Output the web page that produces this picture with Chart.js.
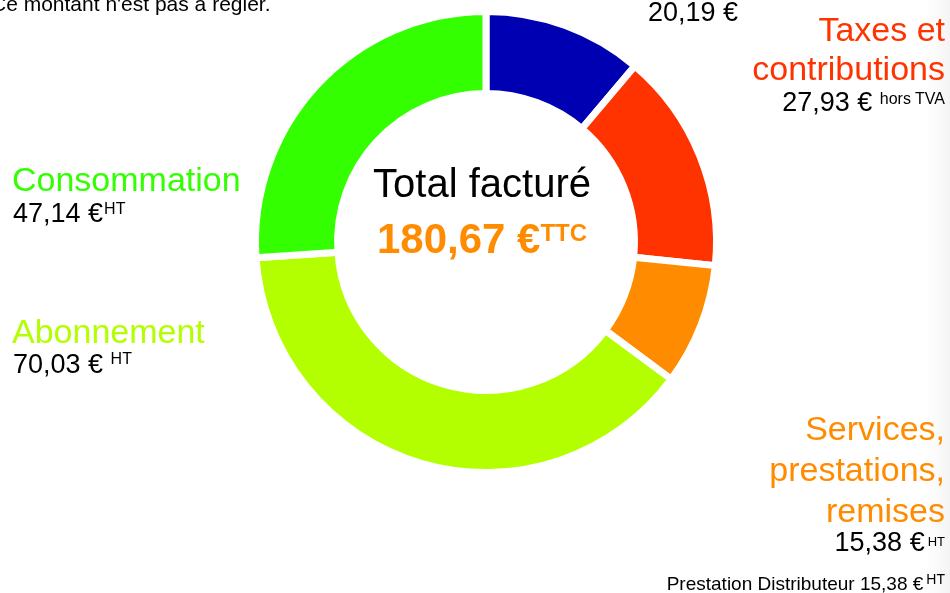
<!DOCTYPE html>
<html>
<head>
<meta charset="utf-8">
<script src="https://cdn.jsdelivr.net/npm/chart.js@4/dist/chart.umd.min.js"></script>
<style>
  html, body { margin: 0; padding: 0; background: #fff; }
  #wrap { position: relative; width: 950px; height: 593px; overflow: hidden; font-family: "Liberation Sans", Arial, sans-serif; }
  #graph { position: absolute; left: 0; top: 0; }
  .shade { position: absolute; left: 926px; top: 0; width: 24px; height: 593px;
           background: linear-gradient(to right, rgba(0,0,0,0), rgba(0,0,0,0.045)); }
  .t { position: absolute; line-height: 1; white-space: nowrap; }
  .t sup { position: relative; vertical-align: baseline; }
</style>
</head>
<body>
<div id="wrap">
  <canvas id="graph" width="950" height="593"></canvas>
  <div class="shade"></div>
  <div id="labels"></div>
</div>
<script>
const categories = ['Abonnement HT', 'Taxes et contributions', 'Services, prestations, remises', 'Abonnement', 'Consommation'];
const amounts = [20.19, 27.93, 15.38, 70.03, 47.14];
const colors = ['#0000b3', '#ff3300', '#ff8c00', '#b3ff00', '#33ff00'];
const distributeur = 15.38;

const eur = v => v.toFixed(2).replace('.', ',') + ' €';
const total = amounts.reduce((a, b) => a + b, 0);

// ascent of Liberation Sans with line-height 1 -> baseline offset
const BASE = 0.8465;
const box = document.querySelector('#labels');
function label(html, fs, baseline, opts) {
    const d = document.createElement('div');
    d.className = 't';
    d.innerHTML = html;
    d.style.fontSize = fs + 'px';
    d.style.top = (baseline - BASE * fs) + 'px';
    d.style.color = opts.color || '#000';
    if (opts.bold) d.style.fontWeight = 'bold';
    if (opts.right !== undefined) d.style.right = (950 - opts.right) + 'px';
    if (opts.left !== undefined) d.style.left = opts.left + 'px';
    if (opts.center !== undefined) {
        d.style.left = opts.center + 'px';
        d.style.transform = 'translateX(-50%)';
    }
    box.appendChild(d);
}
const sup = (txt, fs, up, gap) => `<sup style="font-size:${fs}px;top:-${up}px;margin-left:${gap || 0}px">${txt}</sup>`;

label("Ce montant n'est pas à régler.", 21, 11, {left: -9});

label(eur(amounts[0]), 27, 22, {right: 738});

label('Taxes et', 34, 41, {right: 945, color: colors[1]});
label('contributions', 34, 80, {right: 945, color: colors[1]});
label(eur(amounts[1]) + ' ' + sup('hors TVA', 16, 7), 27, 112, {right: 945});

label('Consommation', 34, 191, {left: 12, color: colors[4]});
label(eur(amounts[4]) + sup('HT', 16, 8, 1), 27, 223, {left: 13});

label('Abonnement', 34, 343, {left: 12, color: colors[3]});
label(eur(amounts[3]) + ' ' + sup('HT', 16, 9), 27, 374, {left: 13});

label('Services,', 34, 440, {right: 945, color: colors[2]});
label('prestations,', 34, 481, {right: 945, color: colors[2]});
label('remises', 34, 522, {right: 945, color: colors[2]});
label(eur(amounts[2]) + sup('HT', 13, 5, 3), 27, 552, {right: 945});
label('Prestation Distributeur ' + eur(distributeur) + sup('HT', 14, 6, 3), 19, 590, {right: 945});

label('Total facturé', 40, 197, {center: 482});
label(eur(total) + sup('TTC', 24, 12), 42, 254, {center: 482, bold: true, color: colors[2]});

const data = {
    labels: categories,
    datasets: [{
        data: amounts,
        backgroundColor: colors,
        borderColor: '#ffffff',
        borderWidth: 7,
        hoverOffset: 0
    }]
};
const config = {
    type: 'doughnut',
    data: data,
    options: {
        responsive: false,
        animation: false,
        cutout: '64.4%',
        layout: {
            padding: {left: 252, right: 230, top: 8, bottom: 117}
        },
        plugins: {
            legend: {display: false},
            tooltip: {enabled: false}
        },
        events: []
    }
};

const graph = document.querySelector('#graph');
new Chart(graph, config);
</script>
</body>
</html>
